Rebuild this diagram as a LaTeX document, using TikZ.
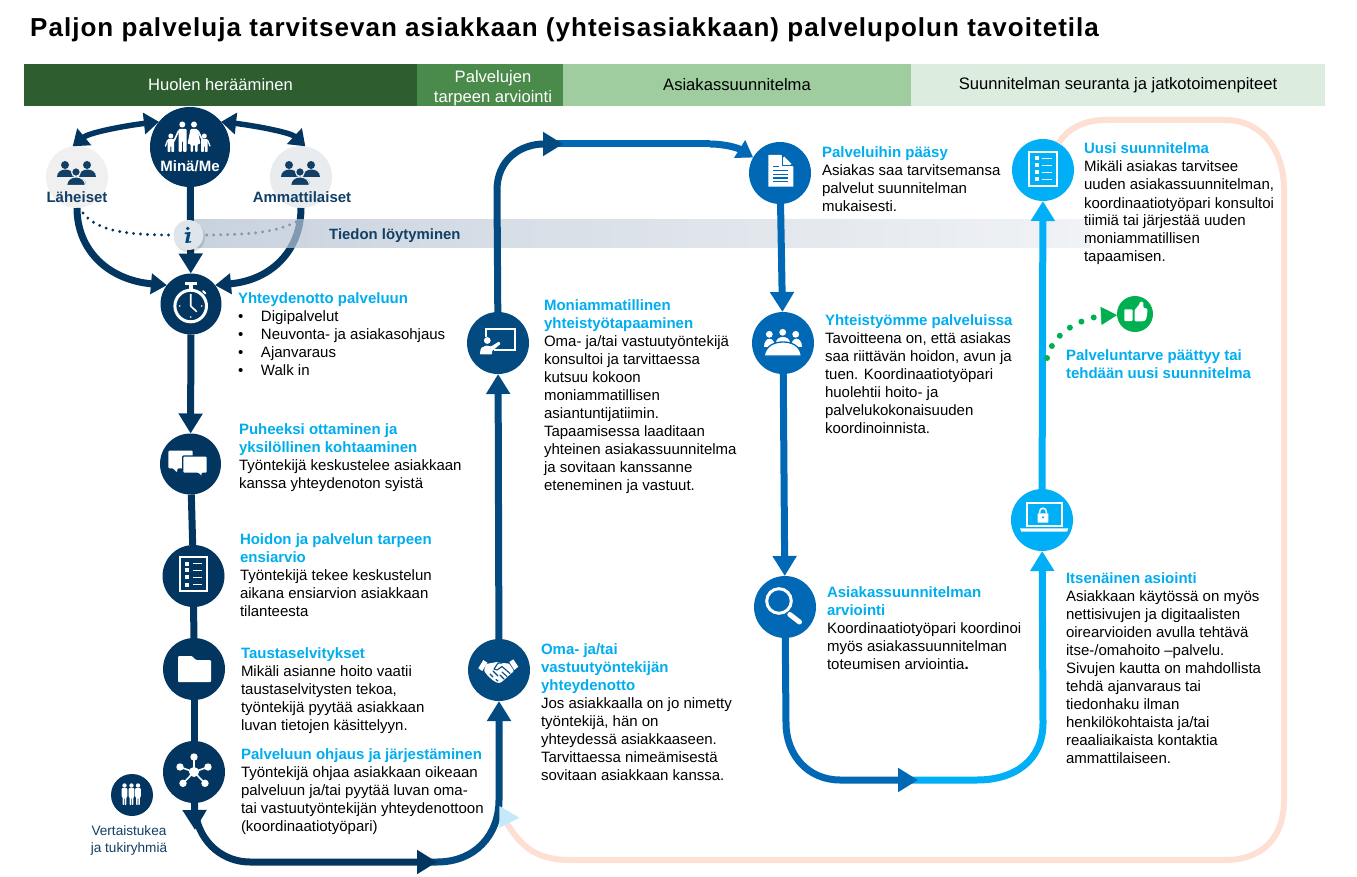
\documentclass[tikz,border=0pt]{standalone}
\usepackage{fontspec}
\setmainfont{Liberation Sans}
\newfontfamily\titlefont[LetterSpace=3.95]{Liberation Sans}
\usetikzlibrary{arrows.meta}
\definecolor{colA}{HTML}{023660}
\definecolor{colB}{HTML}{024A7F}
\definecolor{colC}{HTML}{0068B4}
\definecolor{colD}{HTML}{00AFF5}
\definecolor{head}{HTML}{00AEEF}
\definecolor{peach}{HTML}{FDE0D3}
\definecolor{gre}{HTML}{00B050}
\definecolor{grpc}{HTML}{123F66}
\definecolor{HeaderA}{HTML}{2E5E30}
\definecolor{HeaderB}{HTML}{4A8A4A}
\definecolor{HeaderC}{HTML}{A0CD9F}
\definecolor{HeaderD}{HTML}{DCECDF}
\definecolor{LahC}{HTML}{F0F0F0}
\definecolor{AmmC}{HTML}{E8ECEF}
\definecolor{BandL}{HTML}{B2C0D0}
\definecolor{BandR}{HTML}{EBEEF2}
\definecolor{PaleTip}{HTML}{C5E9FB}
\definecolor{InfoC}{HTML}{DFE5EB}
\newcommand{\hd}[1]{{\bfseries\color{head}#1}}
\newcommand{\blt}[1]{\makebox[23pt][l]{•}#1}
\newcommand{\tb}[4]{\node[txt] (#1) at (#2,#3) {\rule{0pt}{13pt}#4};}
\newcommand{\grpicon}[1]{%
  \fill[grpc] (-12,-12) circle (4) (10,-12) circle (4);
  \fill[grpc] (-20.5,0) .. controls (-20.5,-10) and (-3.5,-10) .. (-3.5,0) -- cycle;
  \fill[grpc] (1.5,0) .. controls (1.5,-10) and (18.5,-10) .. (18.5,0) -- cycle;
  \filldraw[grpc,draw=#1,line width=1.2pt] (-1,-5) circle (4.4);
  \filldraw[grpc,draw=#1,line width=1.2pt] (-10.5,8.5) .. controls (-10.5,-3) and (8.5,-3) .. (8.5,8.5) -- cycle;
}
\newcommand{\listicon}[1]{%
  \draw[white,line width=1.8pt] (-13.7,-17.2) rectangle (13.7,17.2);
  \foreach \r in {-10.5,-3.6,3.4,10.5}{
    \fill[white] (-8.5,\r-2) rectangle (-4.5,\r+2);
    \draw[white,line width=1.6pt] (-0.7,\r) -- (8.8,\r);
  }
}
\tikzset{
  x=1pt,y=-1pt,
  circ/.style n args={2}{circle,fill=#1,draw=none,inner sep=0pt,outer sep=0pt,minimum size=#2},
  txt/.style={anchor=north west,inner sep=0pt,outer sep=0pt,align=left,font=\fontsize{15}{18}\selectfont,text=black},
  hdr/.style={rectangle,inner sep=0pt,outer sep=0pt,minimum height=42pt,align=center,font=\fontsize{16.6}{20}\selectfont},
  conn/.style={line width=7pt},
  bigtip/.style={-{Triangle[width=23pt,length=20pt]}},
  midtip/.style={-{Triangle[width=20pt,length=16pt]}},
  dbl/.style={line width=5.5pt,{Triangle[width=21pt,length=15pt]}-{Triangle[width=21pt,length=15pt]},color=colA},
  lab/.style={inner sep=0pt,outer sep=0pt,font=\fontsize{15}{16}\bfseries\selectfont},
}
\begin{document}
\begin{tikzpicture}
\useasboundingbox (0,0) rectangle (1357,877);
\fill[white] (0,0) rectangle (1357,877);
% title
\node[anchor=base west,inner sep=0pt,font=\fontsize{26}{28}\titlefont\bfseries\selectfont] (title) at (30,36.5) {Paljon palveluja tarvitsevan asiakkaan (yhteisasiakkaan) palvelupolun tavoitetila};
% header
\node[hdr,fill=HeaderA,minimum width=393pt,text=white] (h1) at (220.5,85) {Huolen herääminen};
\node[hdr,fill=HeaderB,minimum width=146pt,text=white] (h2) at (490,85) {\rule{0pt}{17.5pt}\hspace*{6pt}Palvelujen\\\hspace*{6pt}tarpeen arviointi};
\node[hdr,fill=HeaderC,minimum width=348pt,text=black] (h3) at (737,85) {Asiakassuunnitelma};
\node[hdr,fill=HeaderD,minimum width=414pt,text=black] (h4) at (1118,85) {Suunnitelman seuranta ja jatkotoimenpiteet};
% circles
\node[circ={colA}{80pt}] (mina) at (190,147) {};
\node[circ={LahC}{62pt}] (lah) at (77,177) {};
\node[circ={AmmC}{62pt}] (amm) at (301,177) {};
\node[circ={colA}{61pt}] (clock) at (191,304) {};
\node[circ={colA}{61pt}] (chat) at (190.5,464) {};
\node[circ={colA}{62pt}] (check) at (193.5,576) {};
\node[circ={colA}{62pt}] (folder) at (194,669) {};
\node[circ={colA}{62pt}] (net) at (194,772) {};
\node[circ={colA}{42pt}] (peer) at (132,795) {};
\node[circ={colB}{62pt}] (shake) at (499,670) {};
\node[circ={colB}{62pt}] (pres) at (498,343) {};
\node[circ={colC}{62pt}] (doc) at (780,173) {};
\node[circ={colC}{62pt}] (team) at (783,343) {};
\node[circ={colC}{62pt}] (mag) at (785,607) {};
\node[circ={colD}{62pt}] (lap) at (1042,520) {};
\node[circ={colD}{62pt}] (plan) at (1043,170) {};
\node[circ={gre}{36pt}] (thumb) at (1135,314) {};
% free coordinates
\coordinate (p1) at (1105,120); \coordinate (p2) at (1225,120);
\coordinate (p3) at (1284,190); \coordinate (p4) at (1284,800);
\coordinate (p5) at (1225,860); \coordinate (p6) at (570,860);
\coordinate (p7) at (506,822);
\coordinate (n1) at (195,830); \coordinate (n2) at (195,812);
\coordinate (n3) at (250,862); \coordinate (n4) at (437,862); \coordinate (n5) at (420,862);
\coordinate (s1) at (499,800);
\coordinate (t1) at (497,190); \coordinate (t2) at (563,144); \coordinate (t3) at (710,144); \coordinate (t4) at (545,144);
\coordinate (m1) at (786,723); \coordinate (m2) at (840,780); \coordinate (m3) at (918,780); \coordinate (m6) at (900,780);
\coordinate (m4) at (977,780); \coordinate (m5) at (1043,723);
\coordinate (g0) at (1047,358); \coordinate (g1) at (1100,316);
\coordinate (i0) at (83,213); \coordinate (i1) at (296,222);
% things lying under the band
\draw[peach,line width=6pt] (plan.60) .. controls (1068,128) and (1085,120) .. (p1) -- (p2)
  .. controls (1262,120) and (1284,150) .. (p3) -- (p4)
  .. controls (1284,838) and (1262,860) .. (p5) -- (p6)
  .. controls (535,860) and (520,845) .. (p7);
\draw[colA,conn,midtip] (amm.south) .. controls (301,250) and (272,280) .. (clock.38);
\draw[colA,line width=3.2pt,line cap=round,dash pattern=on 0pt off 7pt] (i1) .. controls (270,235) and (235,235) .. (189,235);
% band
\shade[left color=BandL,right color=BandR,fill opacity=.7] (190,220) rectangle (1090,248);
\node[anchor=base west,inner sep=0pt,font=\fontsize{14.9}{16}\bfseries\selectfont,text=grpc] (find) at (329,240) {Tiedon löytyminen};
% connectors
\draw[colA,line width=3.2pt,line cap=round,dash pattern=on 0pt off 7pt] (i0) .. controls (98,232) and (130,235) .. (175,235);
\draw[colA,conn,midtip] (lah.south) .. controls (77,250) and (108,280) .. (clock.142);
\draw[dbl] (lah.98) .. controls (90,132) and (130,125) .. (mina.141);
\draw[dbl] (mina.39) .. controls (250,125) and (290,132) .. (amm.82);
\draw[colA,conn,bigtip] (mina) -- (clock);
\draw[colA,conn,bigtip] (clock) -- (chat);
\draw[colA,conn] (chat) -- (check);
\draw[colA,conn] (check) -- (folder);
\draw[colA,conn] (folder) -- (net);
\draw[colA,conn,bigtip] (net) -- (n1);
\draw[colB,conn,bigtip] (n5) -- (n4) .. controls (475,862) and (499,835) .. (s1) -- (shake);
\draw[colA,conn,bigtip] (n2) .. controls (200,845) and (225,862) .. (n3) -- (n4);
\draw[colB,conn,bigtip] (shake) -- (pres);
\draw[colC,conn] (t4) -- (t3);
\draw[colC,conn,midtip] (t3) .. controls (725,144) and (738,148) .. (doc.150);
\draw[colB,conn,bigtip] (pres) -- (t1) .. controls (497,160) and (520,144) .. (t2);
\draw[colC,conn,bigtip] (doc) -- (team);
\draw[colC,conn,bigtip] (team) -- (mag);
\draw[colD,conn,bigtip] (m6) -- (m4) .. controls (1015,780) and (1043,760) .. (m5) -- (lap);
\draw[colC,conn,bigtip] (mag) -- (m1) .. controls (786,755) and (808,780) .. (m2) -- (m3);
\draw[colD,conn,bigtip] (lap) -- (plan);
\fill[PaleTip] (499.3,806) -- (519.3,817.7) -- (499.3,828) -- cycle;
% green dotted
\draw[gre,line width=6pt,line cap=round,dash pattern=on 0pt off 13pt] (g0) .. controls (1052,338) and (1070,322) .. (g1);
\draw[gre,line width=.5pt,-{Triangle[width=18pt,length=16pt]}] (g1) -- (thumb);
% info
\fill[black,opacity=.12] (189.5,237) circle (15.5);
\node[circ={InfoC}{30pt}] (info) at (188.5,235) {};
\fill[colB] (187.8,228.5) circle (1.9);
\fill[colB,rounded corners=.4pt] (184.8,232.5) -- (190.6,232) -- (188.7,241.5) -- (191.4,241) -- (191,242.5) -- (185.2,243) -- (187,234) -- (184.6,234.2) -- cycle;
% labels on circles
\node[lab,text=white] (minat) at (190,166) {Minä/Me};
\node[lab,text=grpc] (laht) at (77,197) {Läheiset};
\node[lab,text=grpc] (ammt) at (302,197) {Ammattilaiset};
% family
\begin{scope}[white]
\fill (182.3,124.5) circle (3) (194,124.5) circle (3) (170.8,136) circle (2.5) (204.3,136) circle (2.5);
\fill[rounded corners=1pt] (178.5,129) -- (186.5,129) -- (186.5,152) -- (183.2,152) -- (183.2,141) -- (181.8,141) -- (181.8,152) -- (178.5,152) -- cycle;
\fill[rounded corners=1pt] (190.5,129) -- (197.5,129) -- (200.5,144) -- (197.5,144) -- (197.5,152) -- (195,152) -- (195,145) -- (193,145) -- (193,152) -- (190.5,152) -- (190.5,144) -- (187.5,144) -- cycle;
\draw[line width=1.6pt,line cap=round] (178.5,131) -- (174,141);
\draw[line width=1.6pt,line cap=round] (198,131) -- (203,141);
\fill[rounded corners=.8pt] (167.5,139) -- (174.2,139) -- (174.2,152) -- (171.3,152) -- (171.3,146) -- (170.3,146) -- (170.3,152) -- (167.5,152) -- cycle;
\fill[rounded corners=.8pt] (201,139) -- (207.7,139) -- (207.7,152) -- (204.8,152) -- (204.8,146) -- (203.9,146) -- (203.9,152) -- (201,152) -- cycle;
\draw[line width=1.3pt,line cap=round] (167.5,140.5) -- (165.5,146);
\draw[line width=1.3pt,line cap=round] (207.7,140.5) -- (210,146);
\end{scope}
\begin{scope}[shift={(lah.center)}]\grpicon{LahC}\end{scope}
\begin{scope}[shift={(amm.center)}]\grpicon{AmmC}\end{scope}
% stopwatch
\begin{scope}[white]
\draw[line width=3pt] (190.7,306) circle (15.8);
\fill (185,282.5) rectangle (197,285); \fill (189,285) rectangle (193,289);
\draw[line width=2pt,line cap=round] (203,291) -- (205.5,293.5);
\fill (190.7,295) circle (.9) (190.7,317) circle (.9) (179.7,306) circle (.9) (201.7,306) circle (.9);
\draw[line width=1.6pt,line cap=round,line join=round] (190.7,294.5) -- (190.7,306) -- (196.5,311.5);
\end{scope}
% chat
\fill[white,rounded corners=1pt] (168.3,450.7) -- (192.7,450.7) -- (192.7,468.3) -- (177.5,468.3) -- (177,472.5) -- (173,468.3) -- (168.3,468.3) -- cycle;
\filldraw[white,draw=colA,line width=1.3pt,rounded corners=1pt] (182.7,456) -- (207.3,456) -- (207.3,473.3) -- (202,473.3) -- (202,477.5) -- (198,473.3) -- (182.7,473.3) -- cycle;
\begin{scope}[shift={(check.center)},yshift=2pt]\listicon{}\end{scope}
\begin{scope}[shift={(plan.center)},yshift=1pt]\listicon{}\end{scope}
% folder
\fill[white,rounded corners=1pt] (178,682) -- (178,656) -- (192,656) -- (196,660) -- (211,660) -- (211,682) -- cycle;
% network
\begin{scope}[shift={(net.center)},white]
\foreach \a/\b in {0/-15,-14/-5,14/-5,-11/11.3,11/11.3}{
  \draw[line width=1.6pt] (0,0) -- (\a,\b);
  \fill (\a,\b) circle (3.7);
}
\fill (0,0) circle (5);
\end{scope}
% peers
\begin{scope}[shift={(peer.center)},white]
\foreach \a in {-7.5,-0.5,6}{
  \fill (\a,-9.5) circle (2.2);
  \fill[rounded corners=.7pt] (\a-2.8,-6.8) -- (\a+2.8,-6.8) -- (\a+2.8,2) -- (\a+1.9,2) -- (\a+1.9,10) -- (\a+.3,10) -- (\a+.3,3) -- (\a-.3,3) -- (\a-.3,10) -- (\a-1.9,10) -- (\a-1.9,2) -- (\a-2.8,2) -- cycle;
}
\end{scope}
% handshake
\begin{scope}[shift={(shake.center)},white]
\fill (-20.7,-1.7) -- (-15.7,-10) -- (-11.7,-7.3) -- (-16.7,1) -- cycle;
\fill (19.3,-3.3) -- (14.3,-10.7) -- (10.3,-8) -- (15.3,0) -- cycle;
\fill[rounded corners=1pt] (-13,-6) -- (-2,-8) -- (3,-7) -- (10,-6.5) -- (15,1) -- (6,9) -- (2,12.5) -- (-1,13) -- (-6,10.5) -- (-11,6) -- (-15,1) -- cycle;
\draw[colB,line width=1.1pt,line join=round,line cap=round] (11,3.5) -- (3,-3.5) -- (-2,0) -- (-5,-1) -- (-1,-7) -- (3,-7);
\draw[colB,line width=1.1pt,line cap=round] (-9,4) -- (-6,7) (-6,1) -- (-1,6) (5,9) -- (1,5) (8,6.5) -- (3,2) (-3,9.5) -- (-1,11);
\end{scope}
% presentation
\draw[white,line width=1.8pt] (486,336.5) -- (486,329.3) -- (515,329.3) -- (515,350) -- (494,350);
\fill[white] (487.3,340.5) circle (3.4);
\fill[white,rounded corners=.8pt] (479.7,354.3) -- (481,348) -- (486,345.5) -- (491,346.5) -- (499,341.5) -- (500.5,344) -- (492,351) -- (492,354.3) -- cycle;
% document
\fill[white] (768.3,155) -- (781,155) -- (793.3,167) -- (793.3,186.7) -- (768.3,186.7) -- cycle;
\draw[colC,line width=1.1pt] (782.5,156) -- (782.5,165.5) -- (792.5,165.5);
\fill[white] (784,156.5) -- (791.5,164) -- (784,164) -- cycle;
\draw[colC,line width=1.2pt] (773.3,166.7) -- (778.5,166.7) (773.3,170.5) -- (788.3,170.5) (773.3,174.3) -- (788.3,174.3) (773.3,178) -- (788.3,178) (773.3,181.8) -- (788.3,181.8);
% team
\begin{scope}[white]
\fill (769.3,334.3) circle (3.4) (782.7,332.3) circle (3.4) (795.7,334.3) circle (3.4);
\fill (763.5,347) .. controls (763.5,336) and (775,336) .. (775,347) -- cycle;
\fill (790.5,347) .. controls (790.5,336) and (802,336) .. (802,347) -- cycle;
\fill (776,343) .. controls (776,334.5) and (789.5,334.5) .. (789.5,343) -- cycle;
\filldraw[draw=colC,line width=1.3pt] (764,356) .. controls (766,345) and (775,342) .. (783,342) .. controls (791,342) and (800,345) .. (801.5,356) -- cycle;
\end{scope}
% magnifier
\draw[white,line width=3pt] (779,601) circle (12.3);
\draw[white,line width=5pt,line cap=round] (789.8,614.5) -- (799.5,622);
% laptop
\begin{scope}[white]
\draw[line width=1.8pt] (1026.7,502.7) rectangle (1061.7,526);
\fill (1020,528.3) -- (1068.3,528.3) -- (1067,531.7) -- (1021.3,531.7) -- cycle;
\fill[rounded corners=.5pt] (1037.7,513.3) rectangle (1048.3,522.5);
\draw[line width=1.5pt] (1039.7,513.3) -- (1039.7,511.5) arc[start angle=180,end angle=360,radius=3.3] -- (1046.3,513.3);
\fill[colD] (1043,517.3) circle (1.2);
\end{scope}
% thumb
\begin{scope}[white]
\fill[rounded corners=.8pt] (1124.3,309.3) rectangle (1132.5,321);
\fill[rounded corners=1.2pt] (1134.5,310) -- (1139,305) -- (1140,301.5) -- (1143.5,302) -- (1143.3,308) -- (1147.5,308.5) -- (1147.3,313) -- (1146,320) -- (1143.5,321.3) -- (1134.5,321.3) -- cycle;
\end{scope}
% text blocks
\tb{t01}{238}{290}{\hd{Yhteydenotto palveluun}\\\blt{Digipalvelut}\\\blt{Neuvonta- ja asiakasohjaus}\\\blt{Ajanvaraus}\\\blt{Walk in}}
\tb{t02}{239}{421}{\hd{Puheeksi ottaminen ja}\\\hd{yksilöllinen kohtaaminen}\\Työntekijä keskustelee asiakkaan\\kanssa yhteydenoton syistä}
\tb{t03}{240}{531}{\hd{Hoidon ja palvelun tarpeen}\\\hd{ensiarvio}\\Työntekijä tekee keskustelun\\aikana ensiarvion asiakkaan\\tilanteesta}
\tb{t04}{241}{645}{\hd{Taustaselvitykset}\\Mikäli asianne hoito vaatii\\taustaselvitysten tekoa,\\työntekijä pyytää asiakkaan\\luvan tietojen käsittelyyn.}
\tb{t05}{241}{746}{\hd{Palveluun ohjaus ja järjestäminen}\\Työntekijä ohjaa asiakkaan oikeaan\\palveluun ja/tai pyytää luvan oma-\\tai vastuutyöntekijän yhteydenottoon\\(koordinaatiotyöpari)}
\tb{t06}{544}{297}{\hd{Moniammatillinen}\\\hd{yhteistyötapaaminen}\\Oma- ja/tai vastuutyöntekijä\\konsultoi ja tarvittaessa\\kutsuu kokoon\\moniammatillisen\\asiantuntijatiimin.\\Tapaamisessa laaditaan\\yhteinen asiakassuunnitelma\\ja sovitaan kanssanne\\eteneminen ja vastuut.}
\tb{t07}{541}{641}{\hd{Oma- ja/tai}\\\hd{vastuutyöntekijän}\\\hd{yhteydenotto}\\Jos asiakkaalla on jo nimetty\\työntekijä, hän on\\yhteydessä asiakkaaseen.\\Tarvittaessa nimeämisestä\\sovitaan asiakkaan kanssa.}
\tb{t08}{822}{145}{\hd{Palveluihin pääsy}\\Asiakas saa tarvitsemansa\\palvelut suunnitelman\\mukaisesti.}
\tb{t09}{825}{312}{\hd{Yhteistyömme palveluissa}\\Tavoitteena on, että asiakas\\saa riittävän hoidon, avun ja\\tuen. Koordinaatiotyöpari\\huolehtii hoito- ja\\palvelukokonaisuuden\\koordinoinnista.}
\tb{t10}{827}{584}{\hd{Asiakassuunnitelman}\\\hd{arviointi}\\Koordinaatiotyöpari koordinoi\\myös asiakassuunnitelman\\toteumisen arviointia\textbf{.}}
\tb{t11}{1084}{141}{\hd{Uusi suunnitelma}\\Mikäli asiakas tarvitsee\\uuden asiakassuunnitelman,\\koordinaatiotyöpari konsultoi\\tiimiä tai järjestää uuden\\moniammatillisen\\tapaamisen.}
\tb{t12}{1066}{347}{\hd{Palveluntarve päättyy tai}\\\hd{tehdään uusi suunnitelma}}
\tb{t13}{1066}{570}{\hd{Itsenäinen asiointi}\\Asiakkaan käytössä on myös\\nettisivujen ja digitaalisten\\oirearvioiden avulla tehtävä\\itse-/omahoito –palvelu.\\Sivujen kautta on mahdollista\\tehdä ajanvaraus tai\\tiedonhaku ilman\\henkilökohtaista ja/tai\\reaaliaikaista kontaktia\\ammattilaiseen.}
\node[inner sep=0pt,outer sep=0pt,align=center,text=grpc,font=\fontsize{13.6}{17}\selectfont] (peert) at (129,840) {Vertaistukea\\ja tukiryhmiä};
\end{tikzpicture}
\end{document}
